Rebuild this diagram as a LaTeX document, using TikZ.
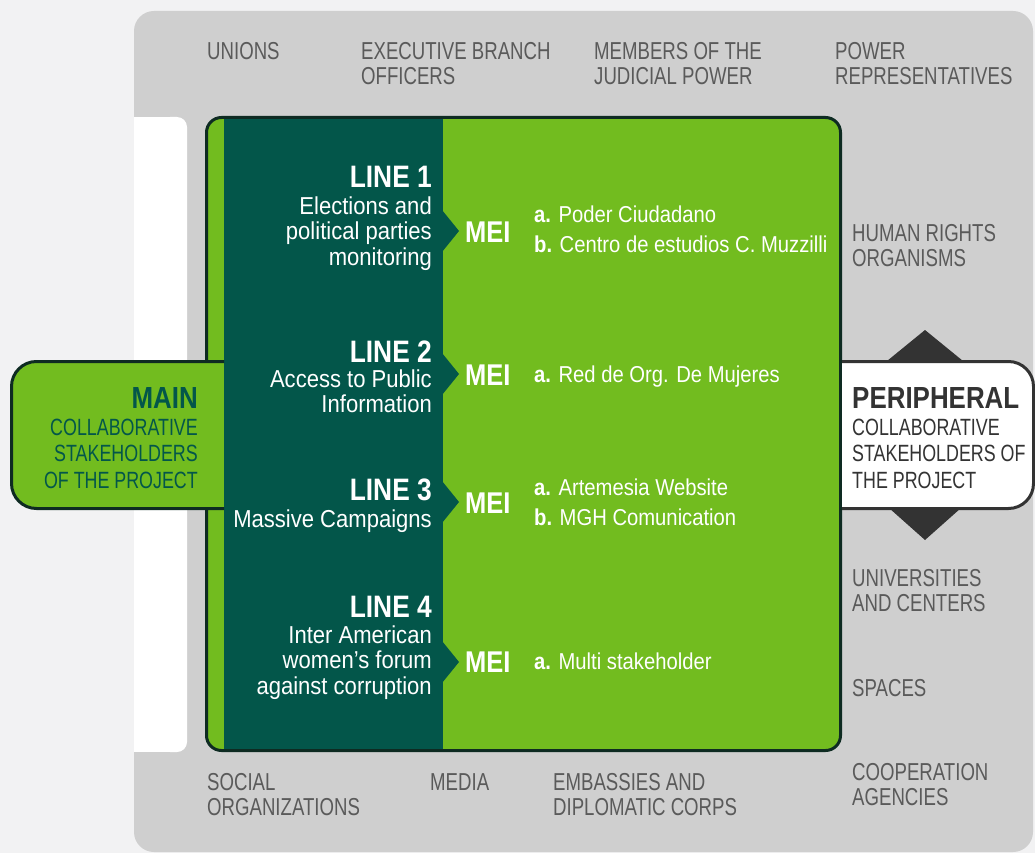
\documentclass[tikz,border=0pt]{standalone}
\usepackage{fontspec}
\setmainfont{Liberation Sans}
\newfontfamily\capsfont[FakeStretch=0.76]{Liberation Sans}
\newfontfamily\bodyfont[FakeStretch=0.88]{Liberation Sans}
\newfontfamily\linefont[FakeStretch=0.9]{Liberation Sans}
\newfontfamily\headfont[FakeStretch=0.85]{Liberation Sans}

\definecolor{pagebg}{HTML}{F2F2F3}
\definecolor{panelgray}{HTML}{CFCFCF}
\definecolor{lime}{HTML}{72BC1F}
\definecolor{darkgreen}{HTML}{03564A}
\definecolor{borderdark}{HTML}{0E2B22}
\definecolor{labelgray}{HTML}{5A5A5A}
\definecolor{periphdark}{HTML}{333333}

\begin{document}
\begin{tikzpicture}[x=1pt,y=-1pt,
	graylbl/.style={text=labelgray, font={\capsfont\fontsize{24.5}{25}\selectfont}, align=left, anchor=base west, inner sep=0pt},
	linehead/.style={text=white, font={\headfont\bfseries\fontsize{31}{31}\selectfont}, anchor=base east, inner sep=0pt},
	linetxt/.style={text=white, font={\linefont\fontsize{24.5}{25.5}\selectfont}, align=right, anchor=base east, inner sep=0pt},
	meilbl/.style={text=white, font={\headfont\bfseries\fontsize{30}{30}\selectfont}, anchor=base west, inner sep=0pt},
	itemtxt/.style={text=white, font={\bodyfont\fontsize{23}{29.5}\selectfont}, align=left, anchor=base west, inner sep=0pt},
	tabhead/.style={font={\headfont\bfseries\fontsize{30.5}{30}\selectfont}, inner sep=0pt},
	tabtxt/.style={font={\capsfont\fontsize{23.5}{26.5}\selectfont}, inner sep=0pt}]

% Background and gray panel
\useasboundingbox (0,0) rectangle (1035,853);
\fill[pagebg] (0,0) rectangle (1035,853);
\fill[panelgray, rounded corners=20] (134,11) rectangle (1033,852);
\fill[white] (134,117) rectangle (177,752);
\fill[white, rounded corners=10] (160,117) rectangle (187,752);

% Green box with the dark column
\draw[borderdark, line width=3pt, fill=lime, rounded corners=15] (206.5,117.5) rectangle (840.5,750.5);

% Main tab
\fill[lime, rounded corners=25] (11.5,361.5) rectangle (260,508.5);
\fill[darkgreen] (224,119) rectangle (443,749);
\draw[borderdark, line width=3pt, rounded corners=25] (224,361.5) -- (11.5,361.5) -- (11.5,508.5) -- (224,508.5);

% Notches towards MEI
\foreach \y in {231,374,502,662} {
	\fill[darkgreen] (442,\y-21) -- (459,\y) -- (442,\y+21) -- cycle;
}

% Peripheral tab
\fill[periphdark] (887,361) -- (925,330) -- (963,361) -- cycle;
\fill[periphdark] (889,508) -- (925,540) -- (961,508) -- cycle;
\draw[periphdark, line width=3pt, fill=white, rounded corners=25] (842,361.5) -- (1033.5,361.5) -- (1033.5,508.5) -- (842,508.5);

% Gray labels (base = last line)
\node[graylbl] (unions) at (207,60) {UNIONS};
\node[graylbl] (execbranch) at (361,85) {EXECUTIVE BRANCH\\OFFICERS};
\node[graylbl] (judicial) at (594,85) {MEMBERS OF THE\\JUDICIAL POWER};
\node[graylbl] (powerrep) at (835,85) {POWER\\REPRESENTATIVES};
\node[graylbl] (humanrights) at (852,266) {HUMAN RIGHTS\\ORGANISMS};
\node[graylbl] (universities) at (852,611) {UNIVERSITIES\\AND CENTERS};
\node[graylbl] (spaces) at (852,696) {SPACES};
\node[graylbl] (cooperation) at (852,805) {COOPERATION\\AGENCIES};
\node[graylbl] (socialorg) at (207,815) {SOCIAL\\ORGANIZATIONS};
\node[graylbl] (media) at (430,790) {MEDIA};
\node[graylbl] (embassies) at (553,815) {EMBASSIES AND\\DIPLOMATIC CORPS};

% Lines of work
\node[linehead] (line1) at (432,188) {LINE 1};
\node[linetxt] (line1txt) at (432,265) {Elections and\\political parties\\monitoring};
\node[linehead] (line2) at (432,362) {LINE 2};
\node[linetxt] (line2txt) at (432,412.5) {Access to Public\\Information};
\node[linehead] (line3) at (432,500) {LINE 3};
\node[linetxt] (line3txt) at (432,527) {Massive Campaigns};
\node[linehead] (line4) at (432,617) {LINE 4};
\node[linetxt] (line4txt) at (432,694) {Inter American\\women’s forum\\against corruption};

% MEI and their members
\node[meilbl] (mei1) at (465,242) {MEI};
\node[meilbl] (mei2) at (465,385) {MEI};
\node[meilbl] (mei3) at (465,513) {MEI};
\node[meilbl] (mei4) at (465,672) {MEI};
\node[itemtxt] (items1) at (534,252) {\textbf{a.} Poder Ciudadano\\\textbf{b.} Centro de estudios C. Muzzilli};
\node[itemtxt] (items2) at (534,382) {\textbf{a.} Red de Org. De Mujeres};
\node[itemtxt] (items3) at (534,525) {\textbf{a.} Artemesia Website\\\textbf{b.} MGH Comunication};
\node[itemtxt] (items4) at (534,669) {\textbf{a.} Multi stakeholder};

% Tab labels
\node[tabhead, text=darkgreen, anchor=base east] (mainhead) at (198,408) {MAIN};
\node[tabtxt, text=darkgreen, align=right, anchor=base east] (maintxt) at (198,488) {COLLABORATIVE\\STAKEHOLDERS\\OF THE PROJECT};
\node[tabhead, text=periphdark, anchor=base west] (perihead) at (852,408) {PERIPHERAL};
\node[tabtxt, text=periphdark, align=left, anchor=base west] (peritxt) at (852,488) {COLLABORATIVE\\STAKEHOLDERS OF\\THE PROJECT};

\end{tikzpicture}
\end{document}
